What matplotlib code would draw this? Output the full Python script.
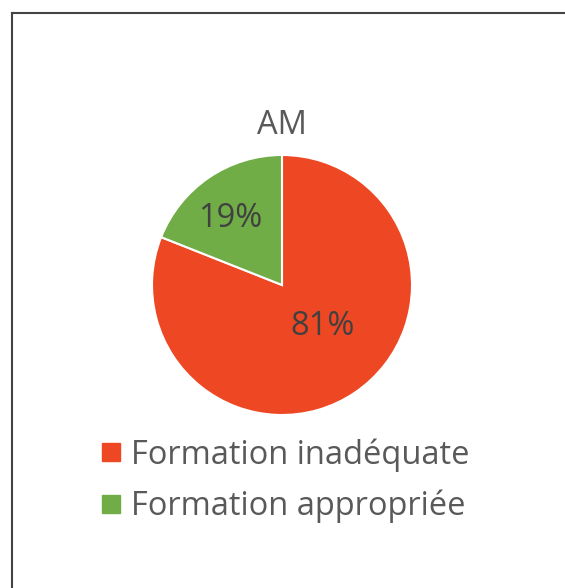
import matplotlib
matplotlib.use("Agg")
import matplotlib.pyplot as plt
from matplotlib.lines import Line2D

title = "AM"
categories = ["Formation inadéquate", "Formation appropriée"]
values = [81, 19]
colors = ["#EE4723", "#70AD47"]

plt.rcParams['font.family'] = ['Open Sans', 'DejaVu Sans']
W, H = 565, 588
fig = plt.figure(figsize=(W / 100, H / 100), dpi=100)
fig.patch.set_facecolor("white")

FS = 23.5
cx, cy, r = 282, 285, 130
ax = fig.add_axes([(cx - r) / W, (H - cy - r) / H, 2 * r / W, 2 * r / H])
wedges, texts = ax.pie(values, colors=colors, startangle=90, counterclock=False,
                       radius=1, labels=None,
                       wedgeprops=dict(edgecolor="white", linewidth=1.5))
ax.set_xlim(-1, 1)
ax.set_ylim(-1, 1)
ax.set_aspect("equal")
ax.axis("off")

# percentage labels
label_pos = [(0.31, -0.32), (-0.40, 0.51)]
for v, (x, y) in zip(values, label_pos):
    ax.text(x, y, f"{v}%", ha="center", va="center", fontsize=FS, color="#404040")

fig.text(cx / W, 1 - 125 / H, title, ha="center", va="center", fontsize=FS, color="#595959")

# legend
handles = [Line2D([0], [0], marker="s", linestyle="none", markersize=13,
                  markerfacecolor=c, markeredgecolor=c) for c in colors]
leg = fig.legend(handles, categories, loc="upper left",
                 bbox_to_anchor=(85 / W, 1 - 425 / H), frameon=False,
                 fontsize=FS, labelcolor="#595959", handlelength=0.8,
                 handletextpad=0.2, labelspacing=0.56, borderaxespad=0)

# frame lines (left and top)
fig.add_artist(Line2D([11.5 / W, 11.5 / W], [0, 1 - 13 / H], color="#444444", lw=1.5,
                      transform=fig.transFigure))
fig.add_artist(Line2D([11.5 / W, 1], [1 - 13 / H, 1 - 13 / H], color="#444444", lw=1.5,
                      transform=fig.transFigure))

fig.savefig("out.png", dpi=100, facecolor="white")
